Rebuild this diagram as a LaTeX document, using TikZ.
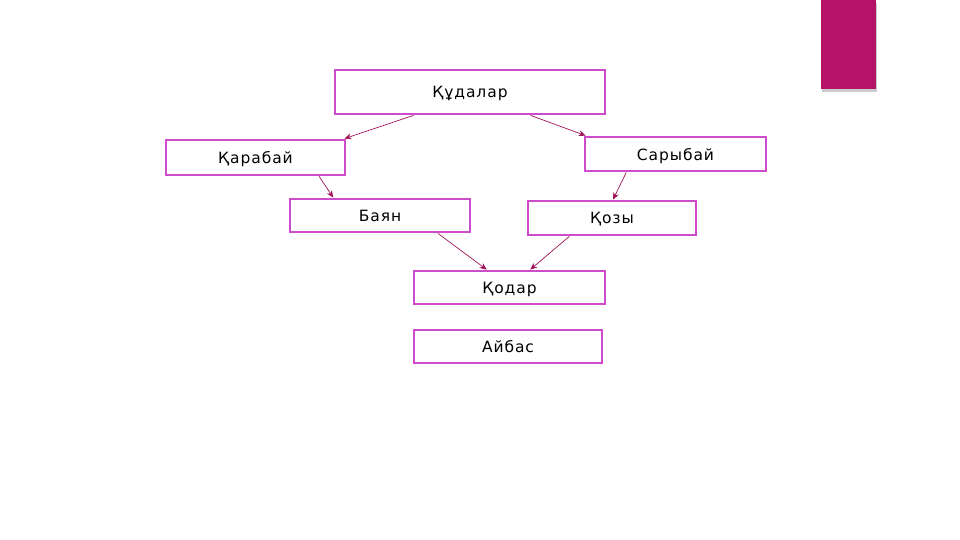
\documentclass[tikz,border=0pt]{standalone}
\usepackage{fontspec}
\setmainfont{DejaVu Sans}[LetterSpace=6]
\usetikzlibrary{calc,arrows.meta}
\definecolor{boxline}{RGB}{204,76,204}
\definecolor{arrowcol}{RGB}{160,20,90}
\definecolor{accent}{RGB}{181,18,104}
\tikzset{
  kin/.style={draw=boxline, line width=2.8pt, fill=white, inner sep=0pt, text depth=0pt, font=\fontsize{15.5}{18}\selectfont},
  link/.style={draw=arrowcol, line width=0.7pt, -{Stealth[length=7pt,width=6pt]}}
}
\begin{document}
\begin{tikzpicture}[x=1pt,y=-1pt]
\useasboundingbox (0,0) rectangle (960,540);
\fill[white] (0,0) rectangle (960,540);
% accent bar
\fill[black!20] (822,3) rectangle (877,92);
\fill[accent] (821,0) rectangle (876,89);
% nodes
\node[kin, minimum width=270pt, minimum height=44pt] (kud) at (470,92) {Құдалар};
\node[kin, minimum width=179pt, minimum height=35pt] (kar) at (255.5,157.5) {Қарабай};
\node[kin, minimum width=181pt, minimum height=34pt] (sar) at (675.5,154) {Сарыбай};
\node[kin, minimum width=180pt, minimum height=33pt] (bay) at (380,215.5) {Баян};
\node[kin, minimum width=168pt, minimum height=34pt] (koz) at (612,218) {Қозы};
\node[kin, minimum width=191pt, minimum height=33pt] (kod) at (509.5,287.5) {Қодар};
\node[kin, minimum width=188pt, minimum height=33pt] (ayb) at (508,346.5) {Айбас};
% connectors
\draw[link] ($(kud.south west)!0.293!(kud.south east)$) -- ($(kar.north east)+(-2,0)$);
\draw[link] ($(kud.south west)!0.722!(kud.south east)$) -- ($(sar.north west)+(2,0)$);
\draw[link] ($(kar.south west)!0.85!(kar.south east)$) -- ($(bay.north west)!0.244!(bay.north east)$);
\draw[link] ($(sar.south west)!0.232!(sar.south east)$) -- ($(koz.north west)!0.506!(koz.north east)$);
\draw[link] ($(bay.south west)!0.817!(bay.south east)$) -- ($(kod.north west)!0.382!(kod.north east)$);
\draw[link] ($(koz.south west)!0.25!(koz.south east)$) -- ($(kod.north west)!0.607!(kod.north east)$);
\end{tikzpicture}
\end{document}
